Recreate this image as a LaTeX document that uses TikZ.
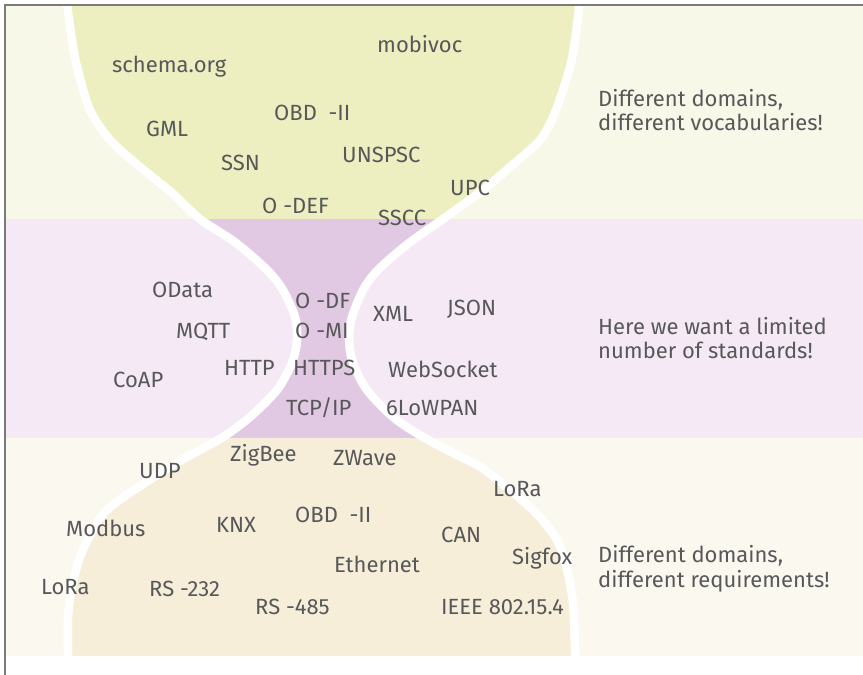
\documentclass[tikz,border=0pt]{standalone}
\usepackage{fontspec}
\setmainfont{Fira Sans}
\definecolor{topout}{HTML}{F7F8E7}
\definecolor{topin}{HTML}{EDEFC1}
\definecolor{midout}{HTML}{F4E9F5}
\definecolor{midin}{HTML}{E2C9E3}
\definecolor{botout}{HTML}{FBF8EF}
\definecolor{botin}{HTML}{F6EED8}
\definecolor{txt}{HTML}{58585A}
\definecolor{framecol}{HTML}{7A7A7A}
\begin{document}
\begin{tikzpicture}[x=1pt,y=-1pt,
  lbl/.style={anchor=base west, inner sep=0pt, text=txt, font=\fontsize{22}{26}\selectfont},
  side/.style={anchor=base west, inner sep=0pt, text=txt, align=left, font=\fontsize{22}{26}\selectfont},
  curve/.style={draw=white, line width=8.5pt}]
\useasboundingbox (0,0) rectangle (863,675);
\fill[white] (0,0) rectangle (863,675);
% bands
\fill[topout] (5,5) rectangle (863,219);
\fill[midout] (5,219) rectangle (863,437.5);
\fill[botout] (5,437.5) rectangle (863,656);
\begin{scope}
  \clip (5,5) rectangle (863,656);
  \begin{scope}
    \clip plot[smooth,tension=0.5] coordinates {(67.5,-10) (67.5,7) (72,40) (77,67) (90,110) (110,140) (140,167) (171,192) (200,219) (232,240) (253,257) (270,273) (283,290) (295,317) (297,340) (292,363) (277,390) (250,417) (223,437) (187,457) (160,473) (110,507) (93,530) (80,557) (72,587) (68,617) (68,650) (68,680)}
      -- plot[smooth,tension=0.5] coordinates {(575,680) (575,650) (573,603) (567,570) (557,540) (533,510) (485,470) (457,455) (423,437) (393,417) (367,390) (353,363) (349,340) (352,317) (363,290) (375,273) (392,257) (413,240) (443,219) (483,190) (510,167) (540,140) (556,110) (570,67) (575,40) (579,7) (579,-10)} -- cycle;
    \fill[topin] (0,0) rectangle (863,219);
    \fill[midin] (0,219) rectangle (863,437.5);
    \fill[botin] (0,437.5) rectangle (863,656);
  \end{scope}
  \draw[curve] plot[smooth,tension=0.5] coordinates {(67.5,-10) (67.5,7) (72,40) (77,67) (90,110) (110,140) (140,167) (171,192) (200,219) (232,240) (253,257) (270,273) (283,290) (295,317) (297,340) (292,363) (277,390) (250,417) (223,437) (187,457) (160,473) (110,507) (93,530) (80,557) (72,587) (68,617) (68,650) (68,680)};
  \draw[curve] plot[smooth,tension=0.5] coordinates {(575,680) (575,650) (573,603) (567,570) (557,540) (533,510) (485,470) (457,455) (423,437) (393,417) (367,390) (353,363) (349,340) (352,317) (363,290) (375,273) (392,257) (413,240) (443,219) (483,190) (510,167) (540,140) (556,110) (570,67) (575,40) (579,7) (579,-10)};
\end{scope}
% frame
\draw[framecol, line width=1.5pt] (5,675) -- (5,5) -- (863,5);
% top band labels
\node[lbl] (schema) at (112,72) {schema.org};
\node[lbl] (mobivoc) at (377,52) {mobivoc};
\node[lbl] (obdtop) at (274,120) {OBD\ \ -II};
\node[lbl] (gml) at (146,136) {GML};
\node[lbl] (ssn) at (221,170) {SSN};
\node[lbl] (unspsc) at (342,162) {UNSPSC};
\node[lbl] (upc) at (450,195) {UPC};
\node[lbl] (odef) at (262,213) {O -DEF};
\node[lbl] (sscc) at (378,225) {SSCC};
% middle band labels
\node[lbl] (odata) at (152,297) {OData};
\node[lbl] (mqtt) at (176,338) {MQTT};
\node[lbl] (http) at (224,375) {HTTP};
\node[lbl] (coap) at (113,387) {CoAP};
\node[lbl] (odf) at (295,308) {O -DF};
\node[lbl] (omi) at (295,338) {O -MI};
\node[lbl] (https) at (293,375) {HTTPS};
\node[lbl] (tcpip) at (286,415) {TCP/IP};
\node[lbl] (xml) at (373,321) {XML};
\node[lbl] (json) at (447,315) {JSON};
\node[lbl] (websocket) at (388,377) {WebSocket};
\node[lbl] (lowpan) at (386,415) {6LoWPAN};
% bottom band labels
\node[lbl] (zigbee) at (230,461) {ZigBee};
\node[lbl] (udp) at (139,478) {UDP};
\node[lbl] (modbus) at (66,536) {Modbus};
\node[lbl] (knx) at (216,532) {KNX};
\node[lbl] (loraleft) at (41,594) {LoRa};
\node[lbl] (rs232) at (149,596) {RS -232};
\node[lbl] (rs485) at (255,614) {RS -485};
\node[lbl] (zwave) at (333,465) {ZWave};
\node[lbl] (obdbot) at (295,522) {OBD\ \ -II};
\node[lbl] (loraright) at (493,496) {LoRa};
\node[lbl] (can) at (441,542) {CAN};
\node[lbl] (ethernet) at (334,572) {Ethernet};
\node[lbl] (sigfox) at (512,564) {Sigfox};
\node[lbl] (ieee) at (441,614) {IEEE 802.15.4};
% side texts
\node[side] (s1a) at (598,106) {Different domains,};
\node[side] (s1b) at (598,130) {different vocabularies!};
\node[side] (s2a) at (598,334) {Here we want a limited};
\node[side] (s2b) at (598,358) {number of standards!};
\node[side] (s3a) at (598,562) {Different domains,};
\node[side] (s3b) at (598,587) {different requirements!};
\end{tikzpicture}
\end{document}
